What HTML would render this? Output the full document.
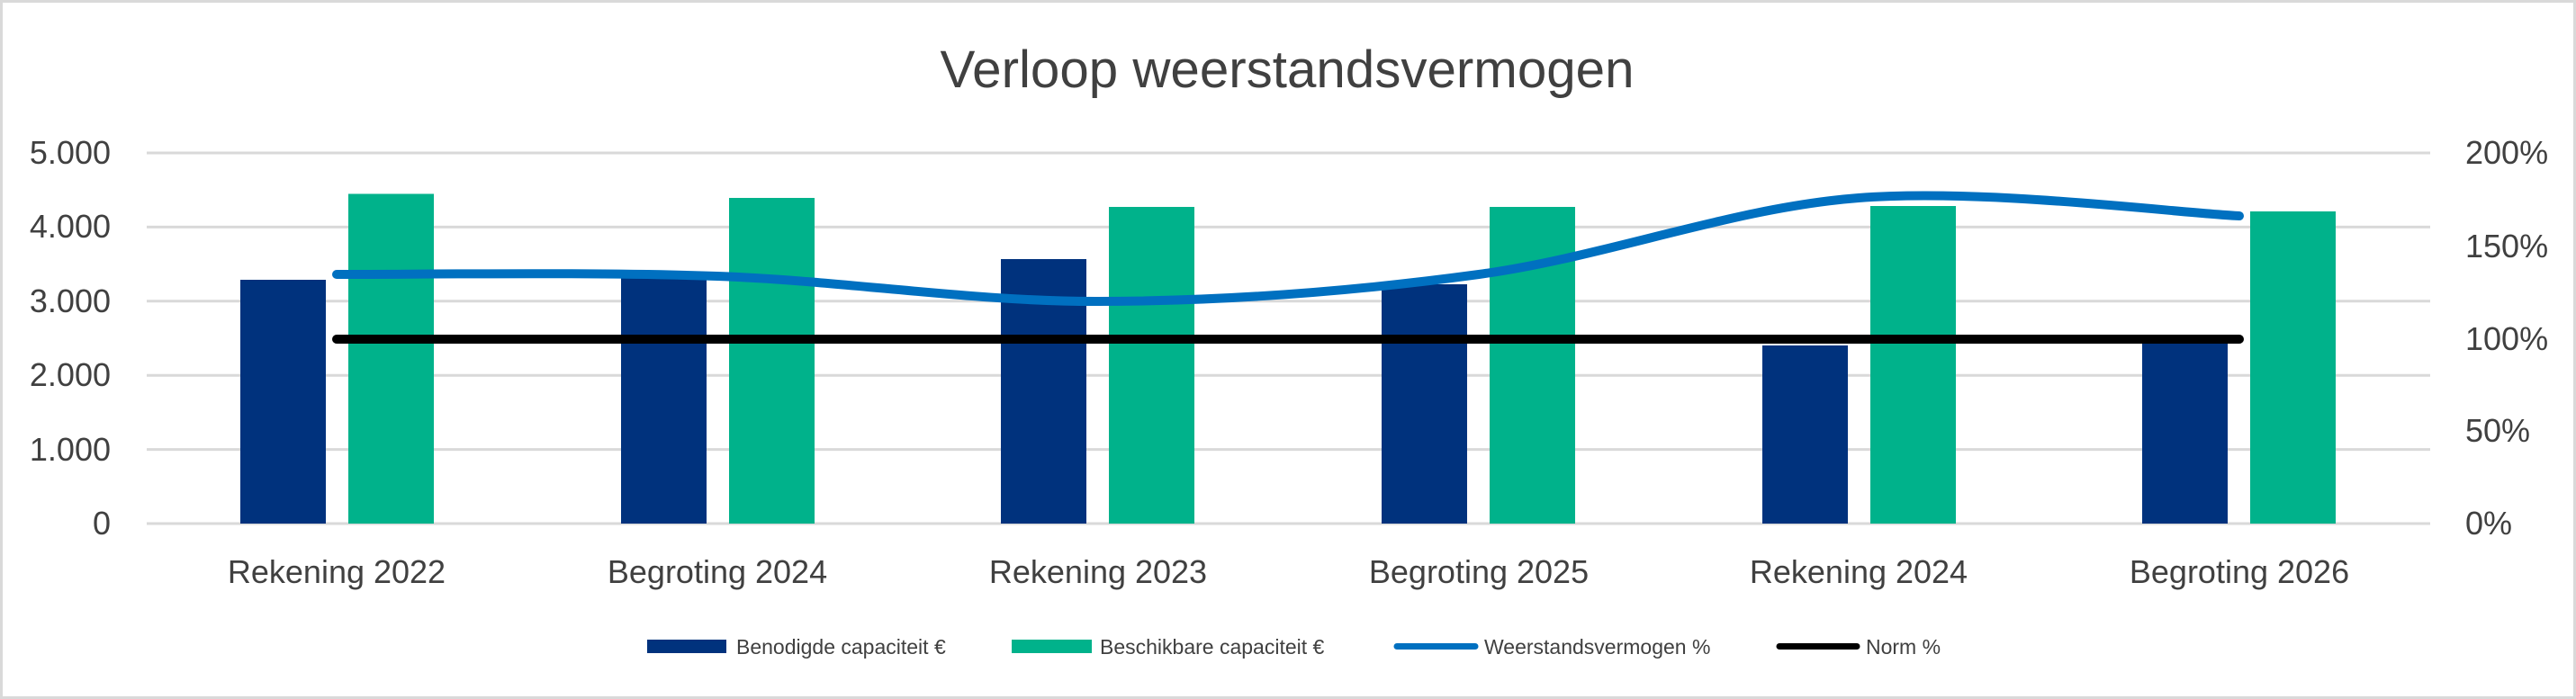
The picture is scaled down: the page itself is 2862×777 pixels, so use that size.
<!DOCTYPE html>
<html><head><meta charset="utf-8"><style>
html,body{margin:0;padding:0;background:#fff;}
svg{display:block;}
text{font-family:"Liberation Sans",sans-serif;fill:#404040;}
</style></head><body>
<svg width="2862" height="777" viewBox="0 0 2862 777" xmlns="http://www.w3.org/2000/svg">
<rect x="1.5" y="1.5" width="2859" height="774" fill="#fff" stroke="#d9d9d9" stroke-width="3"/>
<text x="1430" y="97" font-size="58" text-anchor="middle" textLength="771" lengthAdjust="spacingAndGlyphs">Verloop weerstandsvermogen</text>
<g stroke="#d9d9d9" stroke-width="3">
<line x1="163" x2="2700" y1="170" y2="170"/>
<line x1="163" x2="2700" y1="252.4" y2="252.4"/>
<line x1="163" x2="2700" y1="334.8" y2="334.8"/>
<line x1="163" x2="2700" y1="417.2" y2="417.2"/>
<line x1="163" x2="2700" y1="499.6" y2="499.6"/>
<line x1="163" x2="2700" y1="582" y2="582"/>
</g>
<g font-size="36" text-anchor="end">
<text x="123" y="182">5.000</text>
<text x="123" y="264">4.000</text>
<text x="123" y="347">3.000</text>
<text x="123" y="429">2.000</text>
<text x="123" y="512">1.000</text>
<text x="123" y="594">0</text>
</g>
<g font-size="36">
<text x="2739" y="182">200%</text>
<text x="2739" y="286">150%</text>
<text x="2739" y="389">100%</text>
<text x="2739" y="491">50%</text>
<text x="2739" y="594">0%</text>
</g>
<g fill="#00327d">
<rect x="267" y="311" width="95" height="271"/>
<rect x="690" y="306" width="95" height="276"/>
<rect x="1112" y="288" width="95" height="294"/>
<rect x="1535" y="316" width="95" height="266"/>
<rect x="1958" y="384" width="95" height="198"/>
<rect x="2380" y="378" width="95" height="204"/>
</g>
<g fill="#00b28b">
<rect x="387" y="215.5" width="95" height="366.5"/>
<rect x="810" y="220" width="95" height="362"/>
<rect x="1232" y="230" width="95" height="352"/>
<rect x="1655" y="230" width="95" height="352"/>
<rect x="2078" y="229" width="95" height="353"/>
<rect x="2500" y="235" width="95" height="347"/>
</g>
<line x1="374" x2="2488" y1="377" y2="377" stroke="#000" stroke-width="10" stroke-linecap="round"/>
<path d="M374,305 C444.5,305.3 656,302 797,307 C938,312 1079,335.3 1220,335 C1361,334.7 1502,324.2 1643,305 C1784,285.8 1924,230.8 2065,220 C2206,209.2 2417.5,236.7 2488,240" fill="none" stroke="#0070c0" stroke-width="10" stroke-linecap="round"/>
<g font-size="36" text-anchor="middle">
<text x="374" y="648">Rekening 2022</text>
<text x="797" y="648">Begroting 2024</text>
<text x="1220" y="648">Rekening 2023</text>
<text x="1643" y="648">Begroting 2025</text>
<text x="2065" y="648">Rekening 2024</text>
<text x="2488" y="648">Begroting 2026</text>
</g>
<rect x="719" y="711" width="88" height="15" fill="#00327d"/>
<text x="818" y="727" font-size="23">Benodigde capaciteit €</text>
<rect x="1124" y="711" width="89" height="15" fill="#00b28b"/>
<text x="1222" y="727" font-size="23">Beschikbare capaciteit €</text>
<line x1="1552" x2="1639" y1="718.5" y2="718.5" stroke="#0070c0" stroke-width="7" stroke-linecap="round"/>
<text x="1649" y="727" font-size="23">Weerstandsvermogen %</text>
<line x1="1977" x2="2063" y1="718.5" y2="718.5" stroke="#000" stroke-width="7" stroke-linecap="round"/>
<text x="2073" y="727" font-size="23">Norm %</text>
</svg>
</body></html>
